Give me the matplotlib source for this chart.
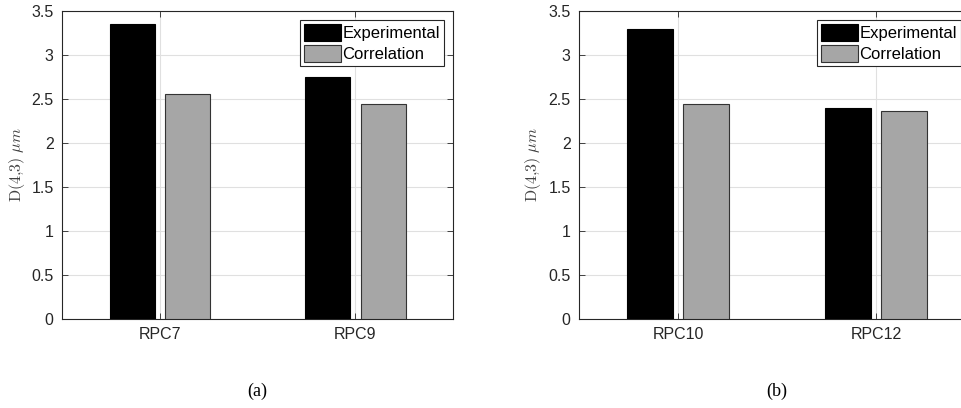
import matplotlib.pyplot as plt
import numpy as np

plt.rcParams["font.family"] = ["Liberation Sans", "DejaVu Sans"]
plt.rcParams["mathtext.fontset"] = "cm"

groups_a = ["RPC7", "RPC9"]
experimental_a = [3.35, 2.745]
correlation_a = [2.56, 2.445]

groups_b = ["RPC10", "RPC12"]
experimental_b = [3.30, 2.40]
correlation_b = [2.445, 2.36]

captions = ["(a)", "(b)"]
series_labels = ["Experimental", "Correlation"]
yticks = [0, 0.5, 1, 1.5, 2, 2.5, 3, 3.5]
ytick_labels = ["0", "0.5", "1", "1.5", "2", "2.5", "3", "3.5"]


def draw_panel(fig, ax, groups, exp, corr, caption, legend_right):
    x = np.arange(1, len(groups) + 1)
    w = 0.23
    ax.bar(x - 0.142, exp, w, color="black", edgecolor="black", linewidth=0.8,
           label=series_labels[0], zorder=3)
    ax.bar(x + 0.142, corr, w, color="#a6a6a6", edgecolor="#333333", linewidth=0.8,
           label=series_labels[1], zorder=3)
    ax.set_xlim(0.5, 2.5)
    ax.set_ylim(0, 3.5)
    ax.set_xticks(x)
    ax.set_xticklabels(groups)
    ax.set_yticks(yticks)
    ax.set_yticklabels(ytick_labels)
    ax.grid(True, color="#e0e0e0", linewidth=0.8, zorder=0)
    ax.set_axisbelow(True)
    ax.tick_params(direction="in", top=True, right=True, length=4, width=0.6,
                   labelsize=11.5, colors="#262626", pad=6)
    for s in ax.spines.values():
        s.set_color("#262626")
        s.set_linewidth(0.8)
    ax.set_ylabel(r"$\mathrm{D}(4{,}3)\ \mu m$", fontsize=11.5, color="#404040")
    # y label sits closer to the tick labels in the original
    ax.yaxis.set_label_coords(-0.09, 0.5)
    leg = ax.legend(loc="upper right", fontsize=12, fancybox=False, framealpha=1,
                    edgecolor="#262626", borderpad=0.25, handlelength=2.2,
                    handleheight=1.15, handletextpad=0.1, labelspacing=0.25,
                    borderaxespad=0, bbox_to_anchor=(legend_right, 1 - 20 / 408),
                    bbox_transform=fig.transFigure)
    leg.get_frame().set_linewidth(0.8)
    ax.text(0.5, -0.235, caption, transform=ax.transAxes, ha="center", va="center",
            fontsize=13, family="Liberation Serif")


fig = plt.figure(figsize=(9.62, 4.08), dpi=100)
ax1 = fig.add_axes([0.0645, 0.2181, 0.4064, 0.7549])
ax2 = fig.add_axes([0.6019, 0.2181, 0.4116, 0.7549])
draw_panel(fig, ax1, groups_a, experimental_a, correlation_a, captions[0], 444 / 962)
draw_panel(fig, ax2, groups_b, experimental_b, correlation_b, captions[1], 961 / 962)

fig.savefig("out.png", dpi=100)
